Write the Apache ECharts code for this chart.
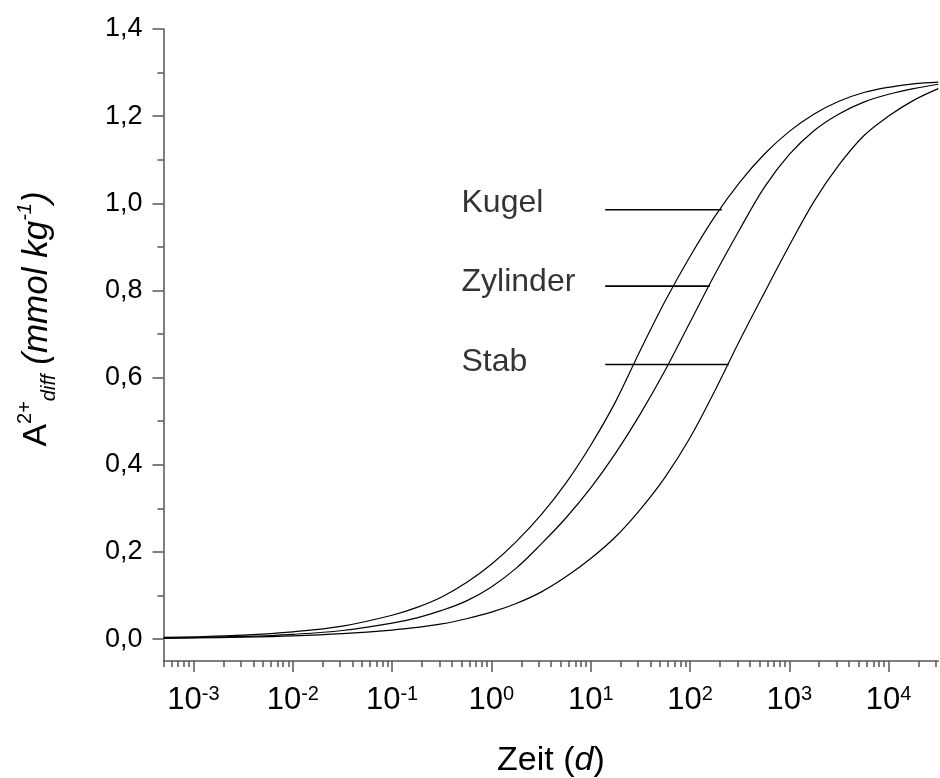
<!DOCTYPE html>
<html>
<head>
<meta charset="utf-8">
<script src="https://cdn.jsdelivr.net/npm/echarts@6/dist/echarts.min.js"></script>
<style>
  html, body { margin: 0; padding: 0; background: #fff; }
  #chart { width: 940px; height: 778px; }
</style>
</head>
<body>
<div id="chart"></div>
<script>
const FONT = '"Liberation Sans", Arial, Helvetica, sans-serif';

// Zeit in Tagen
const times = [0.0005, 0.001, 0.00316, 0.01, 0.0316, 0.1, 0.178, 0.316, 0.562, 1, 1.78, 3.16, 5.62,
               10, 17.8, 31.6, 56.2, 100, 178, 316, 562, 1000, 1780, 3160, 5620, 10000, 17800, 31600];

// Diffusiv freigesetzte Menge (mmol/kg) je Geometrie
const kugel    = [0.004, 0.0055, 0.0095, 0.017, 0.030, 0.055, 0.073, 0.097, 0.13, 0.172, 0.224, 0.285, 0.358,
                  0.445, 0.545, 0.663, 0.776, 0.878, 0.97, 1.048, 1.113, 1.165, 1.205, 1.234, 1.254, 1.266, 1.274, 1.278];
const zylinder = [0.003, 0.0037, 0.0063, 0.0113, 0.020, 0.037, 0.049, 0.066, 0.088, 0.12, 0.163, 0.218, 0.278,
                  0.347, 0.427, 0.517, 0.617, 0.727, 0.837, 0.94, 1.037, 1.112, 1.167, 1.205, 1.232, 1.25, 1.263, 1.273];
const stab     = [0.002, 0.003, 0.0048, 0.0078, 0.013, 0.021, 0.027, 0.035, 0.047, 0.062, 0.082, 0.108, 0.143,
                  0.185, 0.235, 0.298, 0.372, 0.462, 0.57, 0.685, 0.795, 0.903, 1.005, 1.088, 1.155, 1.2, 1.236, 1.263];

const seriesNames = ['Kugel', 'Zylinder', 'Stab'];
const seriesValues = [kugel, zylinder, stab];

// Beschriftungslinien: von leaderStart bis zur jeweiligen Kurve
const leaderStart = 14;
const leaderEnd = [209, 158, 245];
const leaderValues = [0.985, 0.81, 0.63];
const labelTime = 0.5;
const labelValues = [1.0, 0.82, 0.635];

// Achsenteilung
const yTicks = [0, 0.2, 0.4, 0.6, 0.8, 1.0, 1.2, 1.4];
const yMinorTicks = [0.1, 0.3, 0.5, 0.7, 0.9, 1.1, 1.3];
const xDecades = [-3, -2, -1, 0, 1, 2, 3, 4];
const xMin = -3.302, xMax = 4.5;
const yMin = -0.05, yMax = 1.4;

const xMinorTicks = [];
for (let d = -4; d <= 4; d++) {
  for (let k = 2; k <= 9; k++) {
    const v = Math.log10(k) + d;
    if (v >= xMin && v <= xMax) xMinorTicks.push(v);
  }
}

const axisColor = '#555';
const lx = t => Math.log10(t);

const series = [];
seriesNames.forEach((name, i) => {
  series.push({
    name: name,
    type: 'line',
    data: times.map((t, j) => [lx(t), seriesValues[i][j]]),
    symbol: 'none',
    smooth: 0.35,
    lineStyle: { color: '#000', width: 1.2 },
    z: 3
  });
  series.push({
    type: 'line',
    data: [[lx(leaderStart), leaderValues[i]], [lx(leaderEnd[i]), leaderValues[i]]],
    symbol: 'none',
    lineStyle: { color: '#000', width: 1.6 },
    z: 3
  });
});
series.push({
  type: 'scatter',
  data: labelValues.map((v, i) => ({ value: [lx(labelTime), v], name: seriesNames[i] })),
  symbolSize: 0,
  itemStyle: { color: '#000' },
  label: {
    show: true, position: 'right', distance: 0,
    formatter: p => p.name,
    fontFamily: FONT, fontSize: 32, color: '#000'
  },
  z: 4
});

const chart = echarts.init(document.getElementById('chart'), null, { renderer: 'canvas' });
chart.setOption({
  animation: false,
  backgroundColor: '#fff',
  grid: { left: 163.5, right: 1.7, top: 28.9, bottom: 117, outerBoundsMode: 'none' },
  xAxis: [
    {
      type: 'value', position: 'bottom', min: xMin, max: xMax,
      axisLine: { show: true, onZero: false, lineStyle: { color: axisColor, width: 1.5 } },
      axisTick: { show: true, customValues: xDecades, length: 11, lineStyle: { color: axisColor, width: 1.5 } },
      axisLabel: {
        customValues: xDecades, margin: 23,
        formatter: v => '{b|10}{s|' + v + '}',
        rich: {
          b: { fontFamily: FONT, fontSize: 31, lineHeight: 32, color: '#000' },
          s: { fontFamily: FONT, fontSize: 20, lineHeight: 20, verticalAlign: 'top', color: '#000' }
        }
      },
      splitLine: { show: false },
      name: '{r|Zeit (}{i|d}{r|)}',
      nameLocation: 'middle', nameGap: 83,
      nameTextStyle: {
        rich: {
          r: { fontFamily: FONT, fontSize: 34, color: '#000' },
          i: { fontFamily: FONT, fontSize: 34, fontStyle: 'italic', color: '#000' }
        }
      }
    },
    {
      type: 'value', position: 'bottom', min: xMin, max: xMax,
      axisLine: { show: false, onZero: false },
      axisTick: { show: true, customValues: xMinorTicks, length: 6, lineStyle: { color: axisColor, width: 1.5 } },
      axisLabel: { show: false },
      splitLine: { show: false }
    }
  ],
  yAxis: [
    {
      type: 'value', position: 'left', min: yMin, max: yMax,
      axisLine: { show: true, onZero: false, lineStyle: { color: axisColor, width: 1.5 } },
      axisTick: { show: true, customValues: yTicks, length: 11, lineStyle: { color: axisColor, width: 1.5 } },
      axisLabel: {
        customValues: yTicks, margin: 21,
        formatter: v => v.toFixed(1).replace('.', ','),
        fontFamily: FONT, fontSize: 27, color: '#000'
      },
      splitLine: { show: false }
    },
    {
      type: 'value', position: 'left', min: yMin, max: yMax,
      axisLine: { show: false, onZero: false },
      axisTick: { show: true, customValues: yMinorTicks, length: 6, lineStyle: { color: axisColor, width: 1.5 } },
      axisLabel: { show: false },
      splitLine: { show: false }
    }
  ],
  graphic: [
    {
      type: 'text',
      x: 37, y: 319,
      rotation: Math.PI / 2,
      style: {
        text: '{a|A}{sup|2+}{sub|diff}{it| (mmol kg}{isup|-1}{it|)}',
        align: 'center', verticalAlign: 'middle',
        fill: '#000',
        rich: {
          a: { fontFamily: FONT, fontSize: 34, lineHeight: 44, fill: '#000' },
          sup: { fontFamily: FONT, fontSize: 20, lineHeight: 26, verticalAlign: 'top', fill: '#000' },
          sub: { fontFamily: FONT, fontSize: 20, fontStyle: 'italic', lineHeight: 20, verticalAlign: 'bottom', fill: '#000' },
          it: { fontFamily: FONT, fontSize: 35, fontStyle: 'italic', lineHeight: 44, fill: '#000' },
          isup: { fontFamily: FONT, fontSize: 20, fontStyle: 'italic', lineHeight: 26, verticalAlign: 'top', fill: '#000' }
        }
      }
    }
  ],
  series: series
});
</script>
</body>
</html>
